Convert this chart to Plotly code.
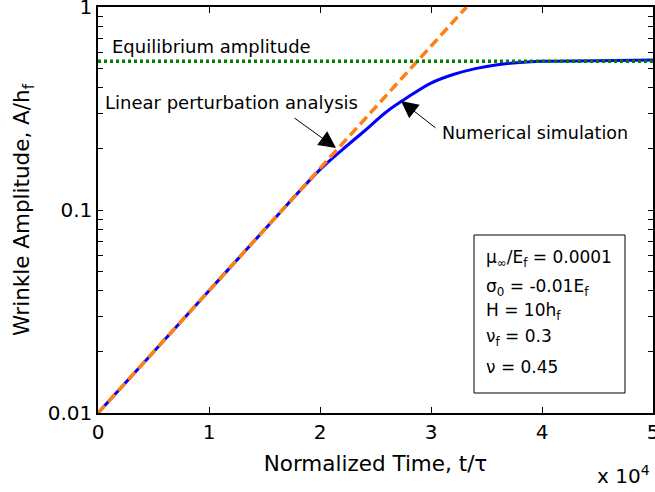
import plotly.graph_objects as go

# Data (time in units of tau; amplitude in units of h_f)
t_num = [0, 5000, 10000, 15000, 20000, 22000, 24000, 26000, 28000, 30000,
         32000, 34000, 36000, 38000, 40000, 45000, 50000]
a_num = [0.0100, 0.0200, 0.0400, 0.0800, 0.158, 0.198, 0.245, 0.305, 0.362, 0.422,
         0.465, 0.497, 0.520, 0.533, 0.540, 0.543, 0.548]

t_lin = [0, 16600, 33200]
a_lin = [0.01, 0.1, 1.0]

t_eq = [0, 50000]
a_eq = [0.54, 0.54]

x_tickvals = [0, 10000, 20000, 30000, 40000, 50000]
x_ticktext = ["0", "1", "2", "3", "4", "5"]

y_tickvals = [0.01, 0.02, 0.03, 0.04, 0.05, 0.06, 0.07, 0.08, 0.09,
              0.1, 0.2, 0.3, 0.4, 0.5, 0.6, 0.7, 0.8, 0.9, 1.0]
y_ticktext = ["0.01"] + [""] * 8 + ["0.1"] + [""] * 8 + ["1"]

params = ["\u03bc<sub>\u221e</sub>/E<sub>f</sub> = 0.0001",
          "\u03c3<sub>0</sub> = -0.01E<sub>f</sub>",
          "H = 10h<sub>f</sub>",
          "\u03bd<sub>f</sub> = 0.3",
          "\u03bd = 0.45"]
param_y = [258, 287, 311, 337, 367]  # pixel rows

FONT = "DejaVu Sans, Liberation Sans, sans-serif"

fig = go.Figure()
fig.add_trace(go.Scatter(x=t_num, y=a_num, mode="lines",
                         line=dict(color="#0000ff", width=3), line_shape="spline"))
fig.add_trace(go.Scatter(x=t_lin, y=a_lin, mode="lines",
                         line=dict(color="#ff8010", width=3.5, dash="10px,5px")))
fig.add_trace(go.Scatter(x=t_eq, y=a_eq, mode="lines",
                         line=dict(color="#008000", width=3.5, dash="3px,3px")))

W, H = 655, 492
L, R, T, B = 98, 2, 7, 79
pw, ph = W - L - R, H - T - B

def px(xp):
    return (xp - L) / pw

def py(yp):
    return (H - B - yp) / ph

AF = 17.5
ann = []
ann.append(dict(x=px(110), y=py(47), xref="paper", yref="paper", text="Equilibrium amplitude",
                showarrow=False, xanchor="left", yanchor="middle", font=dict(size=18)))
ann.append(dict(x=px(103), y=py(102), xref="paper", yref="paper", text="Linear perturbation analysis",
                showarrow=False, xanchor="left", yanchor="middle", font=dict(size=18)))
ann.append(dict(x=px(440), y=py(133), xref="paper", yref="paper", text="Numerical simulation",
                showarrow=False, xanchor="left", yanchor="middle", font=dict(size=AF)))
# arrows
ann.append(dict(x=px(336), y=py(148), xref="paper", yref="paper", text="",
                showarrow=True, ax=-43, ay=-31, arrowhead=2, arrowsize=3.4, arrowwidth=1,
                arrowcolor="black"))
ann.append(dict(x=px(401), y=py(101), xref="paper", yref="paper", text="",
                showarrow=True, ax=36, ay=28, arrowhead=2, arrowsize=3.4, arrowwidth=1,
                arrowcolor="black"))
for txt, yy in zip(params, param_y):
    ann.append(dict(x=px(484), y=py(yy), xref="paper", yref="paper", text=txt,
                    showarrow=False, xanchor="left", yanchor="middle", font=dict(size=17)))
ann.append(dict(x=px(652), y=py(475), xref="paper", yref="paper",
                text="x 10<sup>4</sup>", showarrow=False, xanchor="right", yanchor="middle",
                font=dict(size=20)))

fig.update_layout(
    width=W, height=H,
    margin=dict(l=L, r=R, t=T, b=B),
    paper_bgcolor="white", plot_bgcolor="white",
    showlegend=False,
    font=dict(family=FONT, size=18, color="black"),
    annotations=ann,
    shapes=[dict(type="rect", xref="paper", yref="paper",
                 x0=px(474), x1=px(625), y0=py(393), y1=py(235),
                 line=dict(color="black", width=1), fillcolor="rgba(0,0,0,0)")],
)
fig.update_xaxes(range=[0, 50000], tickvals=x_tickvals, ticktext=x_ticktext,
                 ticks="inside", ticklen=6, tickcolor="black",
                 showline=True, linecolor="black", linewidth=1.5, mirror="ticks",
                 showgrid=False, zeroline=False, automargin=False,
                 ticklabeloverflow="allow",
                 tickfont=dict(size=20),
                 title=dict(text="Normalized Time, t/\u03c4", font=dict(size=21.5), standoff=13))
fig.update_yaxes(type="log", range=[-2, 0], tickvals=y_tickvals, ticktext=y_ticktext,
                 ticks="inside", ticklen=5, tickcolor="black",
                 showline=True, linecolor="black", linewidth=1.5, mirror="ticks",
                 showgrid=False, zeroline=False, automargin=False,
                 ticklabeloverflow="allow",
                 tickfont=dict(size=20),
                 title=dict(text="Wrinkle Amplitude, A/h<sub>f</sub>", font=dict(size=21.5), standoff=12))

fig.write_html("out.html",
               config={"displayModeBar": False},
               post_script="document.body.style.margin='0';document.body.style.padding='0';")
